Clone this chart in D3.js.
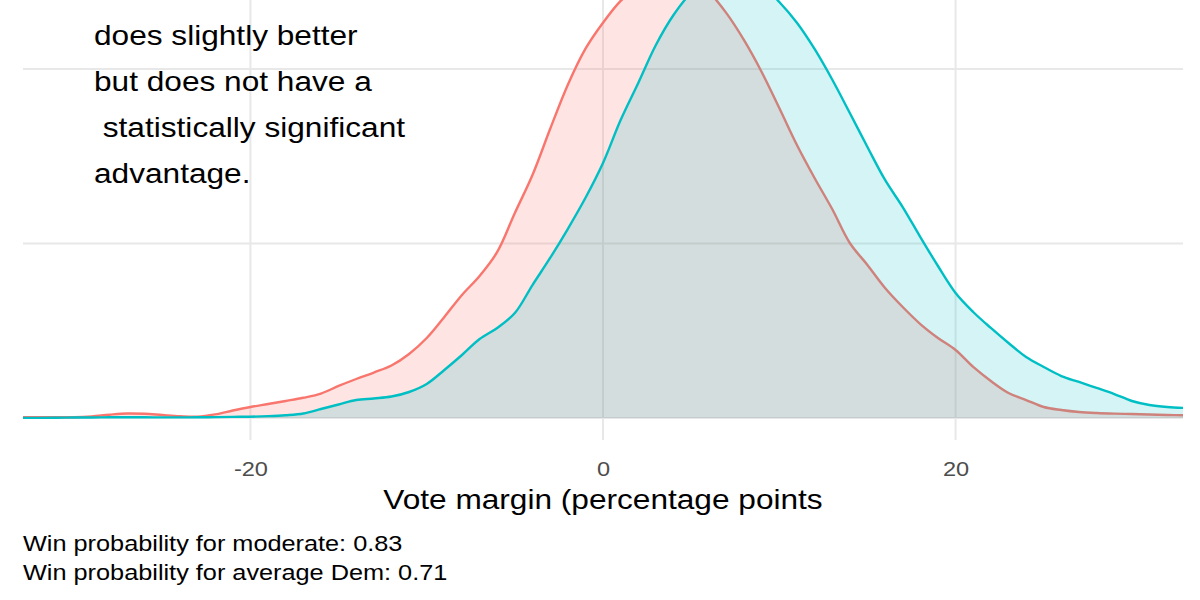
<!DOCTYPE html>
<html>
<head>
<meta charset="utf-8">
<script src="https://cdn.jsdelivr.net/npm/d3@7"></script>
<style>
  html, body { margin: 0; padding: 0; background: #fff; }
  svg { display: block; font-family: 'Liberation Sans', Arial, sans-serif; }
</style>
</head>
<body>
<div id="chart"></div>
<script>
// vote margin grid (percentage points)
const margins = d3.range(-33, 34)

// density, average Dem (red)
const avgDem = [
  0.00008, 0.00008, 0.00008, 0.00009, 0.00019, 0.00038, 0.00052, 0.00048, 0.00034, 0.00021,
  0.00016, 0.00042, 0.00086, 0.00126, 0.00160, 0.00195, 0.00232, 0.00280, 0.00367, 0.00447,
  0.00521, 0.00602, 0.00734, 0.00917, 0.01158, 0.01410, 0.01628, 0.01903, 0.02350, 0.02785,
  0.03312, 0.03817, 0.04230, 0.04530, 0.04780, 0.04951, 0.05089, 0.05100, 0.05032, 0.04883,
  0.04640, 0.04330, 0.03966, 0.03553, 0.03129, 0.02751, 0.02395, 0.02006, 0.01754, 0.01490,
  0.01272, 0.01077, 0.00917, 0.00779, 0.00585, 0.00424, 0.00287, 0.00206, 0.00126, 0.00092,
  0.00069, 0.00057, 0.00050, 0.00046, 0.00040, 0.00034, 0.00031
]

// density, moderate (teal)
const moderate = [
  0.00002, 0.00002, 0.00003, 0.00005, 0.00006, 0.00008, 0.00009, 0.00008, 0.00007, 0.00007,
  0.00008, 0.00010, 0.00013, 0.00015, 0.00021, 0.00032, 0.00052, 0.00103, 0.00155, 0.00206,
  0.00224, 0.00246, 0.00298, 0.00390, 0.00550, 0.00722, 0.00905, 0.01032, 0.01203, 0.01524,
  0.01834, 0.02166, 0.02521, 0.02923, 0.03415, 0.03840, 0.04275, 0.04619, 0.04871, 0.05009,
  0.05100, 0.05077, 0.04963, 0.04768, 0.04530, 0.04230, 0.03880, 0.03496, 0.03106, 0.02728,
  0.02418, 0.02074, 0.01742, 0.01433, 0.01215, 0.01032, 0.00860, 0.00699, 0.00585, 0.00481,
  0.00413, 0.00344, 0.00275, 0.00195, 0.00149, 0.00126, 0.00115
]

const xTicks = [-20, 0, 20]
const yGrid = [0, 0.02, 0.04]
const noteLines = ['does slightly better', 'but does not have a', ' statistically significant', 'advantage.']
const captionLines = ['Win probability for moderate: 0.83', 'Win probability for average Dem: 0.71']
const xTitle = 'Vote margin (percentage points'

const width = 1200
const height = 600
const stretch = 1.15

const x = d3.scaleLinear()
  .domain([-32.9, 32.9])
  .range([23, 1183])
const y = d3.scaleLinear()
  .domain([0, 0.04])
  .range([418, 69])
const panelBottom = 440
const panelTop = -120

const svg = d3.select('#chart').append('svg')
  .attr('width', width)
  .attr('height', height)

svg.append('clipPath').attr('id', 'panel')
  .append('rect')
  .attr('x', x.range()[0])
  .attr('y', panelTop)
  .attr('width', x.range()[1] - x.range()[0])
  .attr('height', panelBottom - panelTop)

// grid
svg.append('g').selectAll('line.h')
  .data(yGrid)
  .enter().append('line')
  .attr('x1', x.range()[0])
  .attr('x2', x.range()[1])
  .attr('y1', d => y(d))
  .attr('y2', d => y(d))
  .attr('stroke', '#e8e8e8')
  .attr('stroke-width', 2)
svg.append('g').selectAll('line.v')
  .data(xTicks)
  .enter().append('line')
  .attr('x1', d => x(d))
  .attr('x2', d => x(d))
  .attr('y1', panelTop)
  .attr('y2', panelBottom)
  .attr('stroke', '#e8e8e8')
  .attr('stroke-width', 2)

const series = [
  {values: avgDem, color: '#F8766D', alpha: 0.2},
  {values: moderate, color: '#00BFC4', alpha: 0.17}
]

const area = d3.area()
  .x((d, i) => x(margins[i]))
  .y0(y(0))
  .y1(d => y(Math.max(0, d)))
  .curve(d3.curveCatmullRom.alpha(0.5))
const line = d3.line()
  .x((d, i) => x(margins[i]))
  .y(d => y(d))
  .curve(d3.curveCatmullRom.alpha(0.5))

const plot = svg.append('g').attr('clip-path', 'url(#panel)')
series.forEach(s => {
  plot.append('path')
    .attr('d', area(s.values))
    .attr('fill', s.color)
    .attr('fill-opacity', s.alpha)
  plot.append('path')
    .attr('d', line(s.values))
    .attr('fill', 'none')
    .attr('stroke', s.color)
    .attr('stroke-width', 2.4)
})

// x axis labels
const axis = svg.append('g')
  .attr('transform', `translate(0,${panelBottom})`)
  .call(d3.axisBottom(x).tickValues(xTicks).tickSize(0).tickPadding(21.5).tickFormat(d3.format('d')))
axis.select('.domain').remove()
axis.selectAll('text')
  .attr('font-size', 20.5)
  .attr('font-family', "'Liberation Sans', Arial, sans-serif")
  .attr('fill', '#4d4d4d')
  .attr('transform', `scale(${stretch},1)`)
  .text(d => d < 0 ? '-' + Math.abs(d) : d)

svg.append('text')
  .attr('transform', `translate(${x(0)},509) scale(${stretch},1)`)
  .attr('text-anchor', 'middle')
  .attr('font-size', 27.5)
  .attr('fill', '#000')
  .text(xTitle)

// annotation
svg.append('g').selectAll('text')
  .data(noteLines)
  .enter().append('text')
  .attr('transform', (d, i) => `translate(94,${45 + i * 46}) scale(${stretch},1)`)
  .attr('font-size', 27.5)
  .attr('fill', '#000')
  .style('white-space', 'pre')
  .text(d => d)

// caption
svg.append('g').selectAll('text')
  .data(captionLines)
  .enter().append('text')
  .attr('transform', (d, i) => `translate(23,${551 + i * 29}) scale(${stretch},1)`)
  .attr('font-size', 22)
  .attr('fill', '#000')
  .text(d => d)
</script>
</body>
</html>
